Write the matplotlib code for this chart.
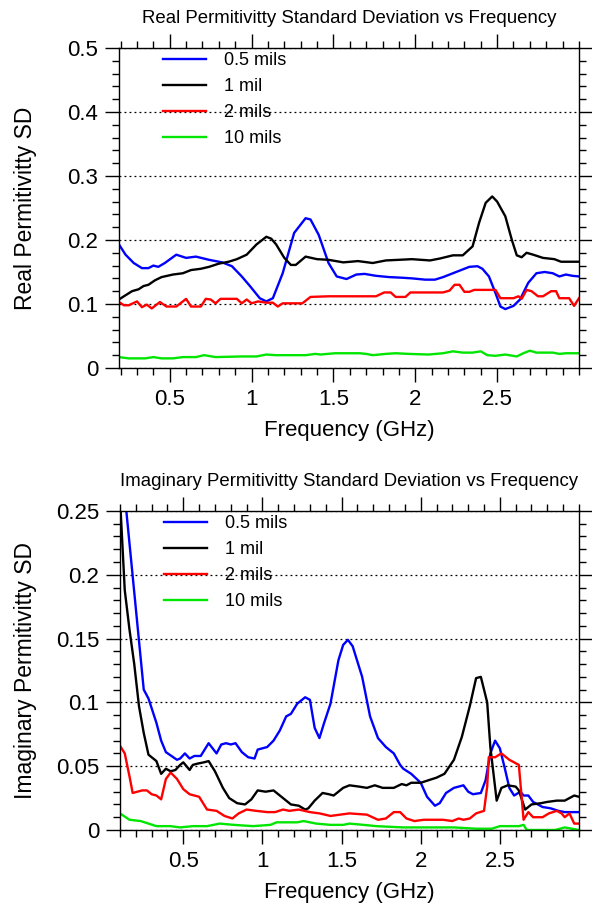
import matplotlib
matplotlib.use("Agg")
import matplotlib.pyplot as plt
from matplotlib.ticker import MultipleLocator, FuncFormatter

plt.rcParams['font.family'] = ['Liberation Sans', 'DejaVu Sans']

# ---- Real permittivity SD (top panel) ----
real_f_05 = [0.19, 0.23, 0.28, 0.33, 0.37, 0.40, 0.43, 0.47, 0.54, 0.60, 0.66, 0.74, 0.82, 0.88,
             0.94, 0.99, 1.05, 1.09, 1.13, 1.19, 1.26, 1.33, 1.36, 1.41, 1.47, 1.52, 1.58, 1.64,
             1.69, 1.76, 1.84, 1.92, 1.98, 2.06, 2.12, 2.17, 2.23, 2.29, 2.33, 2.38, 2.41, 2.45,
             2.49, 2.52, 2.55, 2.60, 2.64, 2.69, 2.74, 2.79, 2.84, 2.88, 2.92, 2.96, 3.00]
real_sd_05 = [0.193, 0.177, 0.164, 0.156, 0.156, 0.160, 0.158, 0.164, 0.177, 0.172, 0.174, 0.169,
              0.165, 0.159, 0.143, 0.128, 0.109, 0.104, 0.109, 0.148, 0.211, 0.234, 0.232, 0.208,
              0.164, 0.143, 0.139, 0.146, 0.147, 0.144, 0.142, 0.141, 0.140, 0.138, 0.138, 0.142,
              0.148, 0.154, 0.158, 0.159, 0.155, 0.143, 0.117, 0.096, 0.092, 0.097, 0.107, 0.133,
              0.148, 0.150, 0.148, 0.143, 0.146, 0.144, 0.143]

real_f_1 = [0.19, 0.22, 0.27, 0.31, 0.34, 0.37, 0.41, 0.45, 0.52, 0.58, 0.63, 0.69, 0.74, 0.80,
            0.86, 0.91, 0.97, 1.03, 1.09, 1.12, 1.15, 1.20, 1.24, 1.27, 1.33, 1.40, 1.47, 1.56,
            1.65, 1.74, 1.82, 1.90, 1.98, 2.09, 2.15, 2.23, 2.29, 2.35, 2.39, 2.43, 2.47, 2.50,
            2.55, 2.59, 2.62, 2.65, 2.68, 2.72, 2.78, 2.85, 2.89, 3.00]
real_sd_1 = [0.107, 0.112, 0.120, 0.123, 0.128, 0.130, 0.137, 0.142, 0.146, 0.148, 0.153, 0.155,
             0.158, 0.163, 0.166, 0.170, 0.177, 0.193, 0.205, 0.202, 0.193, 0.172, 0.161, 0.161,
             0.174, 0.170, 0.169, 0.165, 0.167, 0.164, 0.168, 0.169, 0.170, 0.168, 0.171, 0.176,
             0.176, 0.190, 0.227, 0.258, 0.268, 0.260, 0.237, 0.200, 0.176, 0.173, 0.180, 0.177,
             0.172, 0.170, 0.166, 0.166]

real_f_2 = [0.19, 0.22, 0.25, 0.30, 0.33, 0.36, 0.39, 0.44, 0.48, 0.54, 0.60, 0.63, 0.69, 0.72,
            0.75, 0.78, 0.81, 0.91, 0.94, 0.97, 1.00, 1.04, 1.09, 1.13, 1.16, 1.19, 1.31, 1.36,
            1.47, 1.56, 1.76, 1.81, 1.85, 1.88, 1.94, 1.97, 2.17, 2.21, 2.24, 2.27, 2.30, 2.33,
            2.36, 2.49, 2.52, 2.60, 2.63, 2.65, 2.68, 2.71, 2.75, 2.78, 2.83, 2.86, 2.88, 2.94,
            2.97, 3.00]
real_sd_2 = [0.103, 0.098, 0.098, 0.104, 0.095, 0.099, 0.093, 0.103, 0.096, 0.096, 0.108, 0.096,
             0.096, 0.108, 0.107, 0.101, 0.108, 0.108, 0.101, 0.107, 0.101, 0.104, 0.102, 0.102,
             0.096, 0.101, 0.101, 0.111, 0.112, 0.112, 0.112, 0.118, 0.118, 0.111, 0.111, 0.118,
             0.118, 0.121, 0.130, 0.130, 0.119, 0.119, 0.122, 0.122, 0.109, 0.109, 0.112, 0.108,
             0.122, 0.120, 0.112, 0.112, 0.120, 0.120, 0.109, 0.109, 0.097, 0.109]

real_f_10 = [0.19, 0.25, 0.35, 0.40, 0.45, 0.52, 0.58, 0.66, 0.71, 0.78, 0.94, 1.03, 1.09, 1.15,
             1.33, 1.39, 1.42, 1.51, 1.66, 1.70, 1.74, 1.82, 1.88, 1.96, 2.08, 2.17, 2.23, 2.29,
             2.35, 2.40, 2.44, 2.49, 2.55, 2.62, 2.66, 2.70, 2.74, 2.84, 2.88, 2.92, 3.00]
real_sd_10 = [0.017, 0.015, 0.015, 0.017, 0.015, 0.015, 0.017, 0.017, 0.020, 0.017, 0.018, 0.018,
              0.021, 0.020, 0.020, 0.022, 0.021, 0.023, 0.023, 0.022, 0.020, 0.022, 0.023, 0.022,
              0.021, 0.023, 0.026, 0.024, 0.024, 0.026, 0.020, 0.019, 0.021, 0.018, 0.023, 0.027,
              0.024, 0.024, 0.022, 0.023, 0.023]

# ---- Imaginary permittivity SD (bottom panel) ----
imag_f_05 = [0.10, 0.14, 0.25, 0.28, 0.33, 0.36, 0.39, 0.46, 0.48, 0.51, 0.54, 0.57, 0.61, 0.66,
             0.71, 0.74, 0.77, 0.80, 0.83, 0.87, 0.91, 0.95, 0.97, 1.03, 1.07, 1.11, 1.15, 1.18,
             1.22, 1.27, 1.30, 1.33, 1.36, 1.39, 1.43, 1.48, 1.51, 1.54, 1.57, 1.63, 1.68, 1.73,
             1.78, 1.83, 1.87, 1.89, 1.94, 2.00, 2.04, 2.09, 2.12, 2.16, 2.21, 2.27, 2.30, 2.33,
             2.38, 2.41, 2.44, 2.47, 2.50, 2.53, 2.56, 2.59, 2.63, 2.65, 2.68, 2.71, 2.77, 2.82,
             2.87, 2.91, 2.96, 3.00]
imag_sd_05 = [0.36, 0.25, 0.110, 0.103, 0.084, 0.070, 0.061, 0.055, 0.056, 0.060, 0.056, 0.058,
              0.058, 0.068, 0.060, 0.067, 0.068, 0.067, 0.068, 0.061, 0.057, 0.056, 0.063, 0.065,
              0.070, 0.078, 0.089, 0.091, 0.099, 0.104, 0.102, 0.080, 0.072, 0.084, 0.099, 0.133,
              0.145, 0.149, 0.144, 0.120, 0.089, 0.072, 0.065, 0.060, 0.051, 0.048, 0.044, 0.037,
              0.026, 0.019, 0.021, 0.029, 0.033, 0.035, 0.030, 0.028, 0.029, 0.039, 0.060, 0.070,
              0.064, 0.049, 0.033, 0.027, 0.030, 0.027, 0.027, 0.022, 0.018, 0.017, 0.015, 0.014,
              0.014, 0.014]

imag_f_1 = [0.10, 0.13, 0.16, 0.19, 0.22, 0.25, 0.28, 0.33, 0.36, 0.39, 0.42, 0.45, 0.48, 0.50,
            0.54, 0.56, 0.59, 0.63, 0.66, 0.70, 0.75, 0.79, 0.84, 0.89, 0.93, 0.97, 1.02, 1.07,
            1.10, 1.15, 1.18, 1.23, 1.27, 1.29, 1.33, 1.38, 1.42, 1.45, 1.51, 1.55, 1.61, 1.66,
            1.71, 1.76, 1.83, 1.88, 1.91, 1.94, 2.00, 2.05, 2.10, 2.15, 2.21, 2.26, 2.31, 2.35,
            2.38, 2.42, 2.44, 2.48, 2.51, 2.55, 2.60, 2.62, 2.66, 2.70, 2.76, 2.80, 2.86, 2.91,
            2.97, 3.00]
imag_sd_1 = [0.26, 0.188, 0.157, 0.130, 0.097, 0.076, 0.059, 0.054, 0.044, 0.048, 0.046, 0.047,
             0.051, 0.053, 0.047, 0.051, 0.052, 0.053, 0.054, 0.046, 0.033, 0.025, 0.021, 0.020,
             0.024, 0.031, 0.030, 0.031, 0.028, 0.023, 0.020, 0.019, 0.016, 0.017, 0.023, 0.029,
             0.028, 0.027, 0.033, 0.035, 0.034, 0.033, 0.035, 0.033, 0.033, 0.036, 0.035, 0.037,
             0.037, 0.039, 0.041, 0.044, 0.055, 0.073, 0.097, 0.119, 0.120, 0.100, 0.065, 0.023,
             0.033, 0.035, 0.034, 0.031, 0.016, 0.020, 0.021, 0.022, 0.023, 0.023, 0.027, 0.026]

imag_f_2 = [0.10, 0.13, 0.16, 0.18, 0.24, 0.27, 0.30, 0.33, 0.36, 0.39, 0.42, 0.46, 0.50, 0.54,
            0.60, 0.65, 0.71, 0.76, 0.81, 0.85, 0.90, 0.96, 1.03, 1.08, 1.13, 1.17, 1.23, 1.30,
            1.36, 1.43, 1.49, 1.55, 1.66, 1.73, 1.78, 1.83, 1.87, 1.91, 1.96, 2.02, 2.08, 2.14,
            2.20, 2.24, 2.27, 2.31, 2.35, 2.40, 2.42, 2.43, 2.47, 2.51, 2.56, 2.59, 2.62, 2.65,
            2.68, 2.71, 2.77, 2.81, 2.86, 2.89, 2.91, 2.94, 2.97, 3.00]
imag_sd_2 = [0.066, 0.060, 0.042, 0.029, 0.031, 0.031, 0.028, 0.027, 0.024, 0.040, 0.045, 0.040,
             0.032, 0.028, 0.026, 0.016, 0.015, 0.011, 0.009, 0.013, 0.016, 0.015, 0.014, 0.014,
             0.016, 0.015, 0.016, 0.014, 0.013, 0.011, 0.012, 0.013, 0.012, 0.008, 0.009, 0.014,
             0.014, 0.009, 0.007, 0.008, 0.008, 0.008, 0.007, 0.009, 0.008, 0.009, 0.013, 0.015,
             0.034, 0.057, 0.057, 0.060, 0.055, 0.053, 0.051, 0.008, 0.014, 0.010, 0.010, 0.013,
             0.015, 0.013, 0.010, 0.013, 0.005, 0.005]

imag_f_10 = [0.10, 0.16, 0.23, 0.33, 0.42, 0.48, 0.56, 0.65, 0.73, 0.82, 0.94, 1.05, 1.09, 1.22,
             1.26, 1.34, 1.43, 1.51, 1.55, 1.64, 1.72, 1.89, 2.06, 2.21, 2.35, 2.45, 2.50, 2.56,
             2.62, 2.65, 2.67, 2.85, 2.91, 3.00]
imag_sd_10 = [0.013, 0.008, 0.007, 0.003, 0.003, 0.002, 0.003, 0.003, 0.005, 0.004, 0.003, 0.004,
              0.006, 0.006, 0.007, 0.005, 0.004, 0.004, 0.005, 0.004, 0.003, 0.002, 0.002, 0.002,
              0.001, 0.001, 0.003, 0.003, 0.003, 0.004, 0.000, 0.000, 0.002, 0.000]

labels = ['0.5 mils', '1 mil', '2 mils', '10 mils']
colors = ['#0000ff', '#000000', '#ff0000', '#00e600']

fig = plt.figure(figsize=(5.92, 9.05), dpi=100)
ax1 = fig.add_axes([0.2010, 0.5934, 0.7770, 0.3536])
ax2 = fig.add_axes([0.2027, 0.0829, 0.7753, 0.3525])

real_series = [(real_f_05, real_sd_05), (real_f_1, real_sd_1),
               (real_f_2, real_sd_2), (real_f_10, real_sd_10)]
imag_series = [(imag_f_05, imag_sd_05), (imag_f_1, imag_sd_1),
               (imag_f_2, imag_sd_2), (imag_f_10, imag_sd_10)]

fmt = FuncFormatter(lambda v, p: '%g' % round(v, 3))


def style(ax, xmin, ymax, ymaj, ymin_step, title, ylabel, ylab_x):
    ax.set_xlim(xmin, 3.0)
    ax.set_ylim(0, ymax)
    ax.set_xticks([0.5, 1.0, 1.5, 2.0, 2.5])
    ax.xaxis.set_minor_locator(MultipleLocator(0.1))
    ax.yaxis.set_major_locator(MultipleLocator(ymaj))
    ax.yaxis.set_minor_locator(MultipleLocator(ymin_step))
    ax.xaxis.set_major_formatter(fmt)
    ax.yaxis.set_major_formatter(fmt)
    ax.tick_params(which='both', direction='out', top=True, right=True,
                   labeltop=False, labelright=False, width=1, color='black')
    ax.tick_params(which='major', length=10, labelsize=16, pad=5)
    ax.tick_params(which='minor', length=5)
    ax.grid(True, which='major', axis='y', linestyle=(0, (1.5, 2.5)),
            color='black', linewidth=0.9)
    for s in ax.spines.values():
        s.set_linewidth(1)
    ax.set_title(title, fontsize=13.4, pad=18)
    ax.set_ylabel(ylabel, fontsize=16.5)
    ax.yaxis.set_label_coords(ylab_x, 0.5)
    ax.set_xlabel('Frequency (GHz)', fontsize=16, labelpad=7)


for ax, series in [(ax1, real_series), (ax2, imag_series)]:
    for (f, v), c, lab in zip(series, colors, labels):
        ax.plot(f, v, color=c, linewidth=1.7, label=lab)
    ax.legend(loc='upper left', bbox_to_anchor=(0.06, 1.037), frameon=False,
              fontsize=13, handlelength=2.4, handletextpad=1.0, labelspacing=0.5)

style(ax1, 0.19, 0.5, 0.1, 0.02,
      'Real Permitivitty Standard Deviation vs Frequency', 'Real Permitivitty SD', -0.178)
style(ax2, 0.10, 0.25, 0.05, 0.01,
      'Imaginary Permitivitty Standard Deviation vs Frequency', 'Imaginary Permitivitty SD',
      -0.18)

fig.savefig('out.png', dpi=100)
